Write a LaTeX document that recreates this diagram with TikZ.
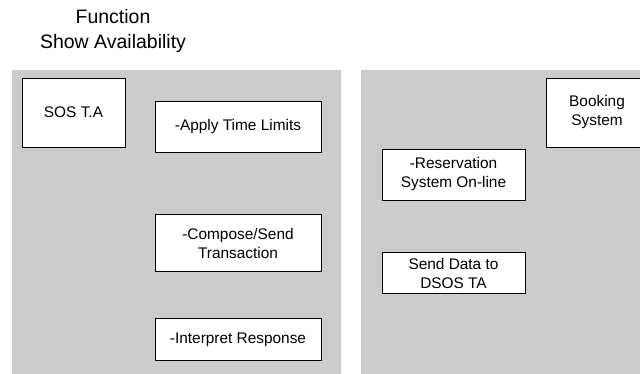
\documentclass[tikz,border=0pt]{standalone}
\usepackage{fontspec}
\setmainfont{Liberation Sans}
\usepackage{tikz}
\usetikzlibrary{positioning}

\definecolor{panelgray}{HTML}{CCCCCC}

\begin{document}
\begin{tikzpicture}[%
  x=1pt,
  y=-1pt,
  panel/.style={
    fill=panelgray,
    draw=none,},
  task/.style={
    draw=black,
    fill=white,
    line width=0.8pt,
    align=center,
    inner sep=0pt,
    font=\fontsize{15.4}{19}\selectfont,}
  ]
  \useasboundingbox (0,0) rectangle (640,374);
  \clip (0,0) rectangle (640,374);
  %% Panels
  \fill[panel] (12,70) rectangle (341,380);
  \fill[panel] (361,70) rectangle (660,380);
  %% Title
  \node[align=center, font=\fontsize{19.5}{25}\selectfont] (title) at (113,31)
    {Function\\Show Availability};
  %% Left panel
  \node[task, minimum width=103pt, minimum height=69pt] (sos) at (73.5,112.5) {SOS T.A};
  \node[task, minimum width=166pt, minimum height=51pt] (apply) at (238,126.5) {-Apply Time Limits};
  \node[task, minimum width=166pt, minimum height=57pt, below=62pt of apply] (compose)
    {-Compose/Send\\Transaction};
  \node[task, minimum width=166pt, minimum height=42pt, below=46pt of compose] (interpret)
    {-Interpret Response};
  %% Right panel
  \node[task, minimum width=102pt, minimum height=69pt] (booking) at (597,112.5) {Booking\\System};
  \node[task, minimum width=143pt, minimum height=51pt] (reserve) at (453.5,174.5)
    {-Reservation\\System On-line};
  \node[task, minimum width=143pt, minimum height=41pt, below=52pt of reserve] (senddata)
    {Send Data to\\DSOS TA};
\end{tikzpicture}
\end{document}
